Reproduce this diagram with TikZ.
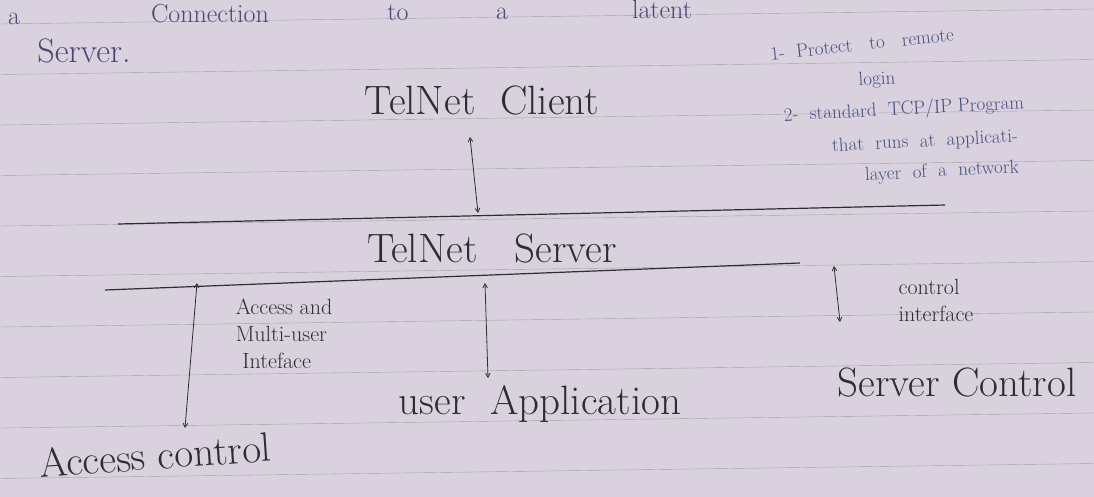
\documentclass[tikz,border=0pt]{standalone}
\usepackage{tikz}
\usetikzlibrary{arrows}
\definecolor{paper}{HTML}{D9D2DE}
\definecolor{rule}{HTML}{A59FAA}
\definecolor{ink}{HTML}{2F2C35}
\definecolor{blueink}{HTML}{454F80}
\definecolor{purpink}{HTML}{4A4876}
\begin{document}
\begin{tikzpicture}[x=1pt,y=-1pt]
      \tikzstyle{point} = [coordinate]
      \tikzstyle{hand} = [text=ink, inner sep=0pt, font=\fontsize{41}{44}\selectfont]
      \tikzstyle{top} = [text=purpink, inner sep=0pt, anchor=base, font=\fontsize{26}{30}\selectfont]
      \tikzstyle{side} = [text=ink, inner sep=0pt, align=left, font=\fontsize{22}{27}\selectfont]
      \tikzstyle{note} = [text=blueink, inner sep=0pt, font=\fontsize{19}{22}\selectfont]
      \tikzstyle{pen} = [ink, very thick]
      \tikzstyle{link} = [ink, thick, <->, >=angle 60]
      % paper and ruled lines
      \fill[paper] (0,0) rectangle (1094,497);
      \useasboundingbox (0,0) rectangle (1094,497);
      \foreach \k in {0,...,9}
        \draw[rule, thin] (0,24+50.5*\k) -- (1094,9+50.5*\k);
      % heading
      \node (w1) [top] at (14,25) {a};
      \node (w2) [top] at (210,23) {Connection};
      \node (w3) [top] at (398,21) {to};
      \node (w4) [top] at (502,20) {a};
      \node (w5) [top] at (662,19) {latent};
      \node (srv) [top, font=\fontsize{34}{38}\selectfont] at (84,63) {Server.};
      % notes
      \node (n1) [note, rotate=6] at (862,44) {1-\ \ Protect\ \ \ to\ \ \ remote};
      \node (n2) [note, rotate=3] at (877,80) {login};
      \node (n3) [note, rotate=3] at (904,110) {2-\ \ standard\ \ TCP/IP\ Program};
      \node (n4) [note, rotate=3] at (925,142) {that\ \ runs\ \ at\ \ applicati-};
      \node (n5) [note, rotate=3] at (942,172) {layer\ \ of\ \ a\ \ network};
      % layers
      \node (client) [hand] at (482,100) {TelNet\ \ Client};
      \node (server) [hand] at (492,248) {TelNet\ \ \ Server};
      \node (user) [hand] at (540,404) {user\ \ Application};
      \node (sctl) [hand] at (957,382) {Server\ Control};
      \node (actl) [hand, rotate=4] at (155,455) {Access\ control};
      \node (lab1) [side] at (284,334) {Access and\\ Multi-user\\ \ Inteface};
      \node (lab2) [side] at (936,300) {control\\interface};
      % rule under client and under server
      \node (l1a) [point] at (118,224) {};
      \node (l1b) [point] at (945,205) {};
      \node (l2a) [point] at (105,290) {};
      \node (l2b) [point] at (800,263) {};
      \draw [pen] (l1a)--(l1b);
      \draw [pen] (l2a)--(l2b);
      % arrows
      \node (c1) [point] at (470,137) {};
      \node (c2) [point] at (478,213) {};
      \node (a1) [point] at (197,283) {};
      \node (a2) [point] at (185,428) {};
      \node (u1) [point] at (485,283) {};
      \node (u2) [point] at (488,378) {};
      \node (s1) [point] at (834,266) {};
      \node (s2) [point] at (840,322) {};
      \draw [link] (c1)--(c2);
      \draw [link] (a1)--(a2);
      \draw [link] (u1)--(u2);
      \draw [link] (s1)--(s2);
\end{tikzpicture}
\end{document}
